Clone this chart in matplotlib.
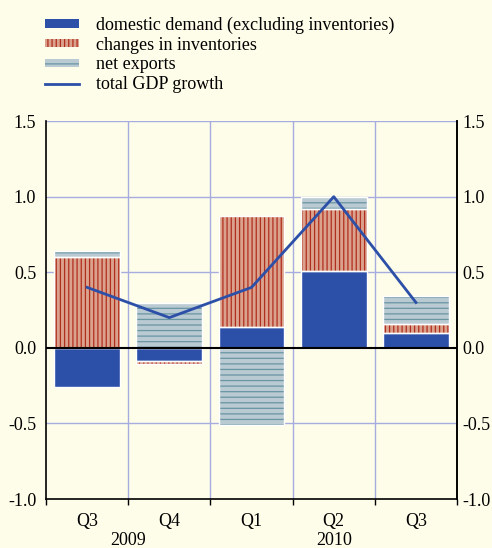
import matplotlib
matplotlib.use("Agg")
import matplotlib.pyplot as plt
import numpy as np
from matplotlib.patches import Patch
from matplotlib.lines import Line2D
from matplotlib.transforms import blended_transform_factory

quarters = ["Q3", "Q4", "Q1", "Q2", "Q3"]
years = ["2009", "2010"]
domestic = [-0.26, -0.09, 0.14, 0.51, 0.10]
inventories = [0.60, -0.02, 0.73, 0.41, 0.06]
net_exports = [0.04, 0.30, -0.51, 0.08, 0.18]
gdp = [0.40, 0.20, 0.40, 1.00, 0.30]
yticks = [-1.0, -0.5, 0.0, 0.5, 1.0, 1.5]

BG = "#fefde9"
BLUE = "#2c4fa8"
INV_FILL = "#daa28c"
INV_HATCH = "#b02e1e"
NX_FILL = "#b9cad2"
NX_HATCH = "#6a95a2"
GRID = "#a6acdf"
FS = 13

plt.rcParams["font.family"] = ["Liberation Serif", "DejaVu Serif"]
plt.rcParams["hatch.linewidth"] = 0.9

fig = plt.figure(figsize=(4.92, 5.48), dpi=100, facecolor=BG)
ax = fig.add_axes([0.0935, 0.0894, 0.8355, 0.6896])
ax.set_facecolor(BG)

x = np.arange(len(quarters))
w = 0.8
series = [
    (domestic, BLUE, None, BLUE),
    (inventories, INV_FILL, "||||", INV_HATCH),
    (net_exports, NX_FILL, "---", NX_HATCH),
]
pos_base = np.zeros(len(x))
neg_base = np.zeros(len(x))
for vals, fill, hatch, hcol in series:
    vals = np.array(vals)
    bottoms = np.where(vals >= 0, pos_base, neg_base)
    ax.bar(x, vals, w, bottom=bottoms, color=fill, hatch=hatch,
           edgecolor=hcol, linewidth=0, zorder=2)
    ax.bar(x, vals, w, bottom=bottoms, fill=False, edgecolor="white",
           linewidth=1.0, zorder=3)
    pos_base = pos_base + np.where(vals >= 0, vals, 0)
    neg_base = neg_base + np.where(vals < 0, vals, 0)

ax.plot(x, gdp, color=BLUE, lw=2, zorder=4)
ax.axhline(0, color="black", lw=1.5, zorder=5)

ax.set_xlim(-0.5, len(x) - 0.5)
ax.set_ylim(-1.0, 1.5)
ax.set_yticks(yticks)
ax.set_yticklabels([f"{v:.1f}" for v in yticks])
ax.tick_params(axis="y", length=0, labelsize=FS, pad=7)
for yv in yticks[1:]:
    if yv != 0:
        ax.axhline(yv, color=GRID, lw=1, zorder=1)
for xb in np.arange(0.5, len(x) - 0.5, 1):
    ax.axvline(xb, color=GRID, lw=1, zorder=1)

ax2 = ax.twinx()
ax2.set_ylim(-1.0, 1.5)
ax2.set_yticks(yticks)
ax2.set_yticklabels([f"{v:.1f}" for v in yticks])
ax2.tick_params(axis="y", length=0, labelsize=FS, pad=4)
for s in ["top", "left", "bottom"]:
    ax2.spines[s].set_visible(False)
ax2.spines["right"].set_color("black")
ax2.spines["right"].set_linewidth(1.2)

ax.set_xticks(np.arange(-0.5, len(x), 1))
ax.set_xticklabels([])
ax.set_xticks(x, minor=True)
ax.set_xticklabels(quarters, minor=True)
ax.tick_params(axis="x", which="major", length=4, direction="out", width=1)
ax.tick_params(axis="x", which="minor", length=0, labelsize=FS, pad=10)

ax.spines["top"].set_visible(False)
for s in ["left", "right", "bottom"]:
    ax.spines[s].set_color("black")
    ax.spines[s].set_linewidth(1.2)

trans = blended_transform_factory(ax.transData, ax.transAxes)
ax.text(0.5, -0.111, years[0], transform=trans, ha="center", va="center", fontsize=FS)
ax.text(3.0, -0.111, years[1], transform=trans, ha="center", va="center", fontsize=FS)

handles = [
    Patch(facecolor=BLUE, edgecolor=BLUE, linewidth=0),
    Patch(facecolor=INV_FILL, edgecolor=INV_HATCH, hatch="||||", linewidth=0),
    Patch(facecolor=NX_FILL, edgecolor=NX_HATCH, hatch="---", linewidth=0),
    Line2D([0], [0], color=BLUE, lw=2),
]
labels = ["domestic demand (excluding inventories)", "changes in inventories",
          "net exports", "total GDP growth"]
fig.legend(handles, labels, loc="upper left", bbox_to_anchor=(0.077, 0.983),
           frameon=False, fontsize=FS, handlelength=1.85, handleheight=0.35,
           handletextpad=0.95, labelspacing=0.15, borderaxespad=0)

fig.savefig("out.png", dpi=100, facecolor=BG)
